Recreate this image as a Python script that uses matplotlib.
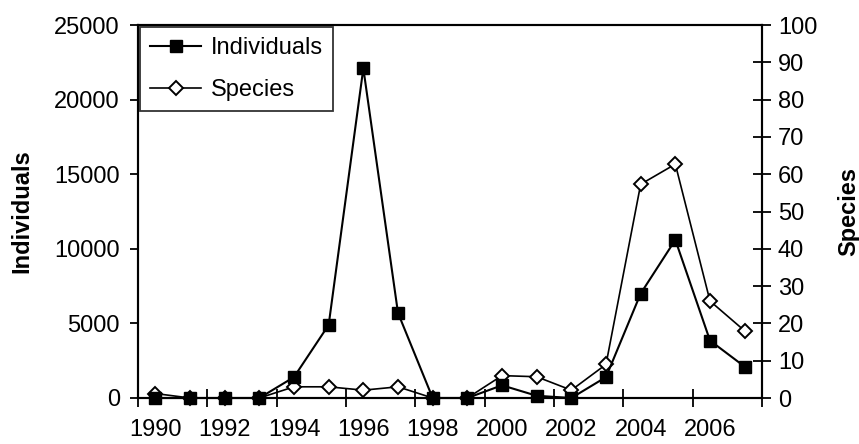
import matplotlib
matplotlib.use("Agg")
import matplotlib.pyplot as plt
from matplotlib.ticker import FixedLocator, NullFormatter

plt.rcParams['font.family'] = ['Liberation Sans', 'DejaVu Sans']

years = list(range(1990, 2008))
individuals = [0, 0, 0, 0, 1400, 4900, 22100, 5700, 0, 0,
               850, 150, 0, 1400, 7000, 10600, 3850, 2100]
species = [1.2, 0, 0, 0, 3.0, 3.0, 2.1, 3.0, 0, 0,
           6.0, 5.7, 2.1, 9.0, 57.3, 62.7, 26, 18]
year_labels = [str(y) for y in range(1990, 2007, 2)]

FS = 17

fig = plt.figure(figsize=(8.59, 4.44), dpi=100)
ax = fig.add_axes([138/859, 1-398/444, (762-138)/859, (398-25)/444])
ax2 = ax.twinx()

l1, = ax.plot(years, individuals, color='black', lw=1.5, marker='s',
              markersize=8.5, markerfacecolor='black', markeredgecolor='black',
              clip_on=False, zorder=3, label='Individuals')
l2, = ax2.plot(years, species, color='black', lw=1.2, marker='D',
               markersize=7.2, markerfacecolor='white', markeredgecolor='black',
               markeredgewidth=1.4, clip_on=False, zorder=4, label='Species')

ax.set_xlim(1989.5, 2007.5)
ax.set_ylim(0, 25000)
ax2.set_ylim(0, 100)
ax.set_yticks(range(0, 25001, 5000))
ax2.set_yticks(range(0, 101, 10))

ax.set_xticks([int(s) for s in year_labels])
ax.set_xticklabels(year_labels)
ax.xaxis.set_minor_locator(FixedLocator([1989.5 + 2*k for k in range(10)]))
ax.xaxis.set_minor_formatter(NullFormatter())
ax.tick_params(axis='x', which='major', length=0, pad=15, labelsize=FS)
ax.tick_params(axis='x', which='minor', length=13, width=1.3, direction='inout')
ax.tick_params(axis='y', length=6, width=1.3, direction='out', labelsize=FS, pad=7)
ax2.tick_params(axis='y', length=13, width=1.3, direction='inout', labelsize=FS, pad=5)

for a in (ax, ax2):
    for s in a.spines.values():
        s.set_linewidth(1.5)
        s.set_color('black')

ax.set_ylabel('Individuals', fontsize=FS, fontweight='bold', labelpad=15)
ax2.set_ylabel('Species', fontsize=FS, fontweight='bold', labelpad=14)

ax.set_zorder(ax2.get_zorder() + 1)
ax.patch.set_visible(False)

leg = ax.legend(handles=[l1, l2], loc='upper left', bbox_to_anchor=(0.0, 1.0),
                frameon=True, fancybox=False, fontsize=FS, handlelength=2.15,
                labelspacing=0.85, borderpad=0.42, handletextpad=0.4,
                borderaxespad=0.1)
leg.get_frame().set_edgecolor('black')
leg.get_frame().set_linewidth(1.3)

fig.savefig('out.png', dpi=100)
